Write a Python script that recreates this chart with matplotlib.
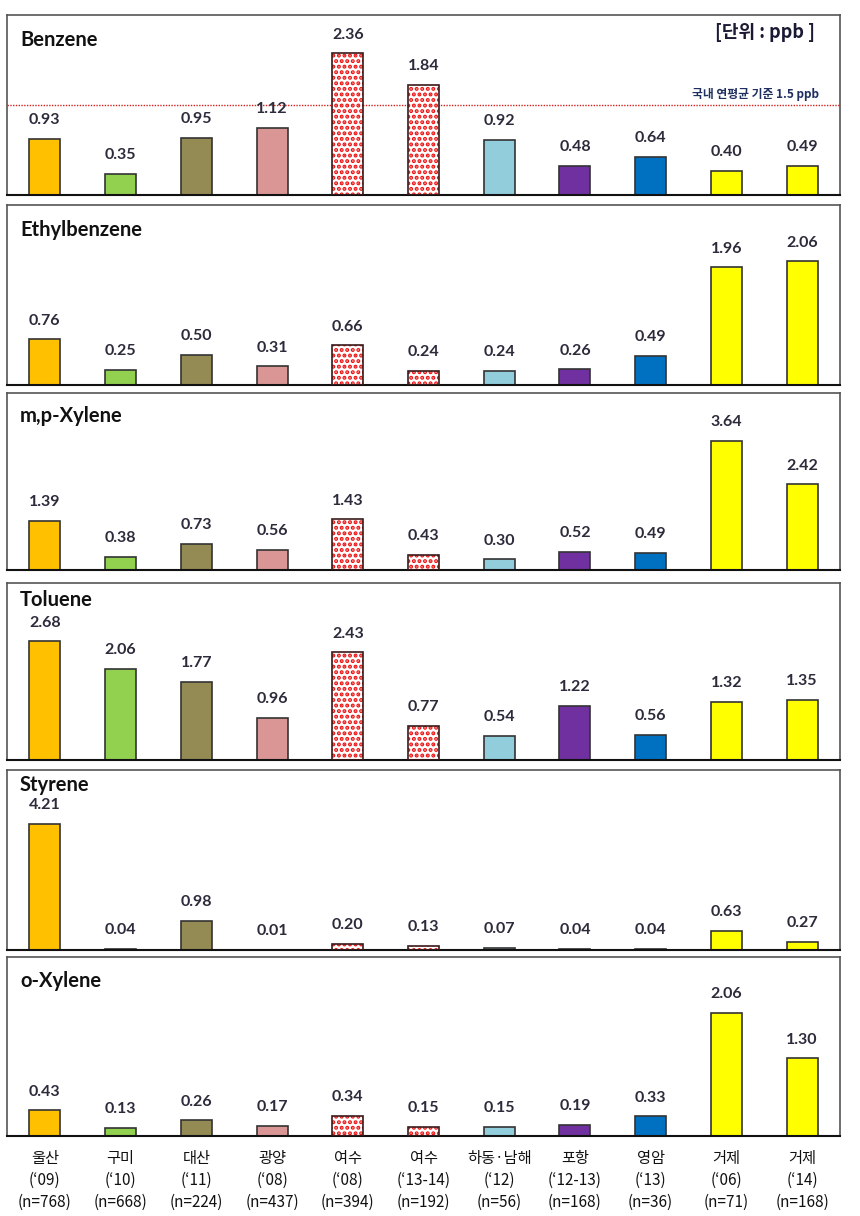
import matplotlib
matplotlib.use("Agg")
import matplotlib.pyplot as plt

# sites (x categories)
sites = ["울산", "구미", "대산", "광양", "여수", "여수", "하동·남해", "포항", "영암", "거제", "거제"]
years = ["(‘09)", "(‘10)", "(‘11)", "(‘08)", "(‘08)", "(‘13-14)", "(‘12)", "(‘12-13)", "(‘13)", "(‘06)", "(‘14)"]
counts = ["(n=768)", "(n=668)", "(n=224)", "(n=437)", "(n=394)", "(n=192)", "(n=56)", "(n=168)", "(n=36)", "(n=71)", "(n=168)"]

benzene = [0.93, 0.35, 0.95, 1.12, 2.36, 1.84, 0.92, 0.48, 0.64, 0.40, 0.49]
ethylbenzene = [0.76, 0.25, 0.50, 0.31, 0.66, 0.24, 0.24, 0.26, 0.49, 1.96, 2.06]
mp_xylene = [1.39, 0.38, 0.73, 0.56, 1.43, 0.43, 0.30, 0.52, 0.49, 3.64, 2.42]
toluene = [2.68, 2.06, 1.77, 0.96, 2.43, 0.77, 0.54, 1.22, 0.56, 1.32, 1.35]
styrene = [4.21, 0.04, 0.98, 0.01, 0.20, 0.13, 0.07, 0.04, 0.04, 0.63, 0.27]
o_xylene = [0.43, 0.13, 0.26, 0.17, 0.34, 0.15, 0.15, 0.19, 0.33, 2.06, 1.30]

compounds = ["Benzene", "Ethylbenzene", "m,p-Xylene", "Toluene", "Styrene", "o-Xylene"]
series = [benzene, ethylbenzene, mp_xylene, toluene, styrene, o_xylene]
ymax = [3.0, 3.0, 5.0, 4.0, 6.0, 3.0]
benzene_limit = 1.5

colors = ["#FFC000", "#92D050", "#948A54", "#D99694", None, None,
          "#92CDDC", "#7030A0", "#0070C0", "#FFFF00", "#FFFF00"]

# panel top/bottom in pixels of the 860x1216 canvas
panels_px = [(15, 195), (205, 385), (393, 570), (583, 760), (770, 950), (957, 1136)]
title_dy = [25, 25, 23, 17, 15, 24]

W, H = 860, 1216
fig = plt.figure(figsize=(W / 100, H / 100), dpi=100)
plt.rcParams['hatch.linewidth'] = 2.0
latin = ["Lato", "DejaVu Sans"]
kr = ["Noto Sans CJK KR", "DejaVu Sans"]

x = list(range(len(sites)))
for i, (name, vals) in enumerate(zip(compounds, series)):
    top, bot = panels_px[i]
    ax = fig.add_axes([7 / W, 1 - bot / H, 833 / W, (bot - top) / H])
    ax.set_xlim(-0.5, len(sites) - 0.5)
    ax.set_ylim(0, ymax[i])
    for j, v in enumerate(vals):
        if colors[j] is None:
            # 여수 bars: red dot pattern with a dark outline on top
            ax.bar(j, v, width=0.41, color="white", edgecolor="#EE1111",
                   hatch="...", linewidth=0, zorder=2)
            ax.bar(j, v, width=0.41, color="none", edgecolor="#3a1a1a",
                   linewidth=1.2, zorder=3)
        else:
            ax.bar(j, v, width=0.41, color=colors[j], edgecolor="#333333",
                   linewidth=1.2, zorder=2)
        ax.annotate(f"{v:.2f}", (j, v), xytext=(0, 8.5), textcoords="offset points",
                    ha="center", va="bottom", fontsize=11.5, fontweight="bold",
                    family=latin, color="#2b2b3b")
    ax.text(13 / 833, 1 - title_dy[i] / (bot - top), name, transform=ax.transAxes,
            ha="left", va="center", fontsize=14.5, fontweight="bold",
            family=latin, color="#111111")
    for s in ["top", "left", "right"]:
        ax.spines[s].set_color("#555555")
        ax.spines[s].set_linewidth(1.2)
    ax.spines["bottom"].set_color("#111111")
    ax.spines["bottom"].set_linewidth(1.5)
    ax.set_yticks([])
    ax.tick_params(axis="x", length=0)
    if i == 0:
        ax.axhline(benzene_limit, color="#D02020", linestyle=(0, (1, 1)),
                   linewidth=1.0, zorder=1)
        ax.text(0.97, 1 - 18 / (bot - top), "[단위 : ppb ]", transform=ax.transAxes,
                ha="right", va="center", fontsize=13, fontweight="bold",
                family=kr, color="#1a1a33")
        ax.text(0.975, benzene_limit + 0.06, "국내 연평균 기준 1.5 ppb",
                transform=ax.get_yaxis_transform(), ha="right", va="bottom",
                fontsize=8.5, fontweight="bold", family=kr, color="#1F2F5F")
    if i == len(compounds) - 1:
        ax.set_xticks(x)
        ax.set_xticklabels([f"{a}\n{b}\n{c}" for a, b, c in zip(sites, years, counts)],
                           family=kr, fontsize=11, linespacing=1.4, color="#111111")
        ax.tick_params(axis="x", pad=10)
    else:
        ax.set_xticks([])

fig.savefig("out.png", dpi=100, facecolor="white")
